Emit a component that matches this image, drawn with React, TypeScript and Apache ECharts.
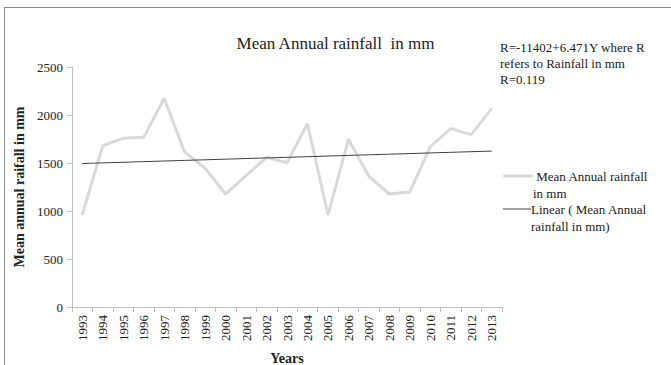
import React, { useEffect, useRef } from "react";
import * as echarts from "echarts";

const years = ["1993","1994","1995","1996","1997","1998","1999","2000","2001","2002","2003","2004","2005","2006","2007","2008","2009","2010","2011","2012","2013"];
const rainfall = [958,1682,1757,1767,2174,1615,1445,1177,1368,1559,1503,1910,958,1747,1362,1177,1198,1670,1858,1795,2069];
const intercept = -11402;
const slope = 6.471;
const trend = years.map((y) => Math.round((intercept + slope * Number(y)) * 10) / 10);
const yTicks = { min: 0, max: 2500, interval: 500 };

const FONT = "'Liberation Serif', 'DejaVu Serif', serif";

export default function App() {
  const ref = useRef<HTMLDivElement>(null);
  useEffect(() => {
    const chart = echarts.init(ref.current!, null, { renderer: "svg" });
    chart.setOption({
      animation: false,
      backgroundColor: "#ffffff",
      textStyle: { fontFamily: FONT },
      title: {
        text: "Mean Annual rainfall  in mm",
        left: "center",
        top: 30,
        textStyle: { fontFamily: FONT, fontSize: 17, fontWeight: "normal", color: "#222" },
      },
      grid: { left: 72, top: 67, right: 169, bottom: 58, outerBoundsMode: "none", containLabel: false },
      xAxis: {
        type: "category",
        data: years,
        boundaryGap: true,
        name: "Years",
        nameLocation: "middle",
        nameGap: 44,
        nameTextStyle: { fontFamily: FONT, fontSize: 14, fontWeight: "bold", color: "#222" },
        axisLine: { lineStyle: { color: "#bfbfbf" } },
        axisTick: { show: true, alignWithLabel: false, length: 5, lineStyle: { color: "#bfbfbf" } },
        axisLabel: { rotate: 90, fontFamily: FONT, fontSize: 13, color: "#222", margin: 8, interval: 0 },
      },
      yAxis: {
        type: "value",
        min: yTicks.min,
        max: yTicks.max,
        interval: yTicks.interval,
        name: "Mean annual raifall in mm",
        nameLocation: "middle",
        nameRotate: 90,
        nameGap: 45,
        nameTextStyle: { fontFamily: FONT, fontSize: 14, fontWeight: "bold", color: "#222" },
        axisLine: { show: true, lineStyle: { color: "#bfbfbf" } },
        axisTick: { show: true, length: 5, lineStyle: { color: "#bfbfbf" } },
        splitLine: { show: false },
        axisLabel: { fontFamily: FONT, fontSize: 13, color: "#222", margin: 9, formatter: (v: number) => String(v) },
      },
      series: [
        {
          name: "Mean Annual rainfall in mm",
          type: "line",
          data: rainfall,
          symbol: "none",
          lineStyle: { color: "#d9d9d9", width: 3 },
          z: 2,
        },
        {
          name: "Linear ( Mean Annual rainfall in mm)",
          type: "line",
          data: trend,
          symbol: "none",
          lineStyle: { color: "#404040", width: 1 },
          z: 3,
        },
      ],
      graphic: [
        {
          type: "line",
          shape: { x1: 4, y1: 7.5, x2: 671, y2: 7.5 },
          style: { stroke: "#8c8c8c", lineWidth: 1 },
          silent: true,
        },
        {
          type: "line",
          shape: { x1: 4.5, y1: 7, x2: 4.5, y2: 365 },
          style: { stroke: "#8c8c8c", lineWidth: 1 },
          silent: true,
        },
        {
          type: "text",
          x: 500,
          y: 39,
          style: {
            text: "R=-11402+6.471Y where R\nrefers to Rainfall in mm\nR=0.119",
            fontFamily: FONT,
            fontSize: 13,
            lineHeight: 16,
            fill: "#222",
          },
        },
        {
          type: "line",
          shape: { x1: 503, y1: 176, x2: 533, y2: 176 },
          style: { stroke: "#d9d9d9", lineWidth: 3 },
        },
        {
          type: "text",
          x: 533,
          y: 168,
          style: {
            text: " Mean Annual rainfall\nin mm",
            fontFamily: FONT,
            fontSize: 13,
            lineHeight: 17,
            fill: "#222",
          },
        },
        {
          type: "line",
          shape: { x1: 503, y1: 209, x2: 531, y2: 209 },
          style: { stroke: "#404040", lineWidth: 1 },
        },
        {
          type: "text",
          x: 531,
          y: 201,
          style: {
            text: "Linear ( Mean Annual\nrainfall in mm)",
            fontFamily: FONT,
            fontSize: 13,
            lineHeight: 17,
            fill: "#222",
          },
        },
      ],
    });
    return () => chart.dispose();
  }, []);
  return <div ref={ref} style={{ position: "fixed", left: 0, top: 0, width: 671, height: 365 }} />;
}
